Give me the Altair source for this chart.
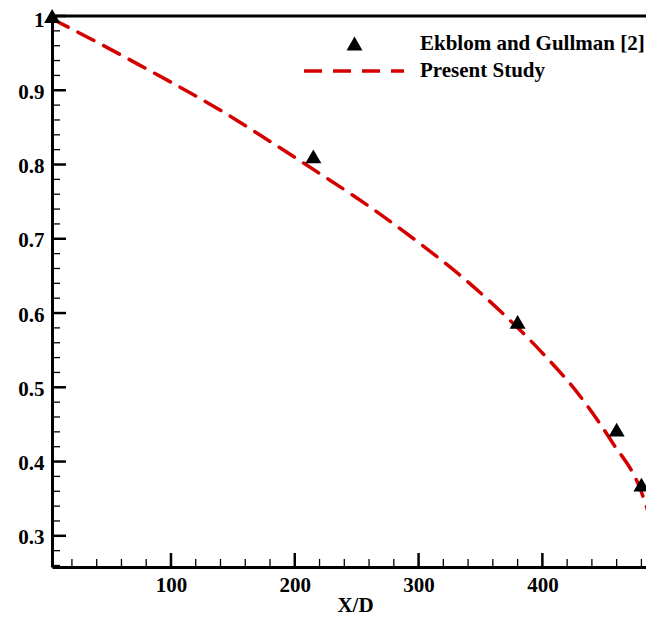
import altair as alt
import pandas as pd

# ---- data ----
exp_x = [4, 215, 380, 460, 480]
exp_y = [1.0, 0.811, 0.588, 0.443, 0.369]

sim_x = [4, 40, 80, 115, 141, 181, 220, 258, 296, 332, 367, 399, 430, 456, 480, 489.5]
sim_y = [0.996, 0.965, 0.929, 0.897, 0.872, 0.830, 0.788, 0.746, 0.700, 0.653,
         0.601, 0.548, 0.489, 0.427, 0.359, 0.310]

x_major = [100, 200, 300, 400]
x_minor = [20, 40, 60, 80, 120, 140, 160, 180, 220, 240, 260, 280,
           320, 340, 360, 380, 420, 440, 460, 480]
y_major = [0.3, 0.4, 0.5, 0.6, 0.7, 0.8, 0.9, 1.0]
y_minor = [0.26, 0.28, 0.32, 0.34, 0.36, 0.38, 0.42, 0.44, 0.46, 0.48,
           0.52, 0.54, 0.56, 0.58, 0.62, 0.64, 0.66, 0.68, 0.72, 0.74,
           0.76, 0.78, 0.82, 0.84, 0.86, 0.88, 0.92, 0.94, 0.96, 0.98]

EXP_NAME = "Ekblom and Gullman [2]"
SIM_NAME = "Present Study"

W, H = 594, 551
FONT = "Liberation Serif"
FS = 21
RED = "#d40000"

exp_df = pd.DataFrame({"x": exp_x, "y": exp_y, "series": EXP_NAME})
sim_df = pd.DataFrame({"x": sim_x, "y": sim_y, "series": SIM_NAME})
xmaj_df = pd.DataFrame({"x": x_major})
xmin_df = pd.DataFrame({"x": x_minor})
ymaj_df = pd.DataFrame({"y": y_major})
ymin_df = pd.DataFrame({"y": y_minor})

xs = alt.Scale(domain=[3.9, 483.7], nice=False, zero=False)
ys = alt.Scale(domain=[0.258, 1.0], nice=False, zero=False)

xaxis = alt.Axis(title="X/D", values=x_major, ticks=False, grid=False,
                 domainWidth=3, domainColor="black",
                 labelFont=FONT, labelFontSize=FS, labelFontWeight="bold",
                 labelColor="black", labelPadding=7,
                 titleFont=FONT, titleFontSize=21, titleFontWeight="bold",
                 titleColor="black", titlePadding=-1,
                 titleX=303)
yaxis = alt.Axis(title=None, values=y_major, ticks=False, grid=False,
                 domainWidth=3, domainColor="black",
                 labelFont=FONT, labelFontSize=FS, labelFontWeight="bold",
                 labelColor="black", labelPadding=8,
                 labelOffset={"condition": {"test": "datum.value >= 0.99", "value": 4},
                              "value": 2},
                 labelExpr="datum.value == 1 ? '1' : format(datum.value, '.1f')")


def X():
    return alt.X("x:Q", scale=xs, axis=xaxis)


def Y():
    return alt.Y("y:Q", scale=ys, axis=yaxis)


frame = alt.Chart(pd.DataFrame({"a": [0]})).mark_rule(
    color="black", strokeWidth=3
).encode(x=alt.value(0), x2=alt.value(W), y=alt.value(0))

xminor = alt.Chart(xmin_df).mark_rule(color="black", strokeWidth=1.3).encode(
    x=X(), y=alt.value(H), y2=alt.value(H - 8))
xmajor = alt.Chart(xmaj_df).mark_rule(color="black", strokeWidth=2.5).encode(
    x=X(), y=alt.value(H), y2=alt.value(H - 14))
yminor = alt.Chart(ymin_df).mark_rule(color="black", strokeWidth=1.3).encode(
    y=Y(), x=alt.value(0), x2=alt.value(8))
ymajor = alt.Chart(ymaj_df).mark_rule(color="black", strokeWidth=2.5).encode(
    y=Y(), x=alt.value(0), x2=alt.value(14))

line = alt.Chart(sim_df).mark_line(
    color=RED, strokeWidth=3.5, strokeCap="round", clip=True, interpolate="monotone"
).encode(
    x=X(), y=Y(),
    strokeDash=alt.StrokeDash(
        "series:N",
        scale=alt.Scale(domain=[SIM_NAME], range=[[18, 11]]),
        legend=alt.Legend(title=None, orient="none", legendX=250, legendY=3,
                          padding=0, symbolType="stroke", symbolSize=10000,
                          symbolStrokeWidth=3.5, symbolStrokeColor=RED,
                          labelFont=FONT, labelFontSize=FS, labelFontWeight="bold",
                          labelColor="black", labelOffset=14, labelLimit=0),
    ),
)

points = alt.Chart(exp_df).mark_point(
    filled=True, color="black", size=256, opacity=1
).encode(
    x=X(), y=Y(),
    shape=alt.Shape(
        "series:N",
        scale=alt.Scale(domain=[EXP_NAME], range=["triangle-up"]),
        legend=alt.Legend(title=None, orient="none", legendX=292, legendY=17,
                          padding=0, symbolSize=256, symbolFillColor="black",
                          symbolStrokeColor="black", symbolOpacity=1,
                          labelFont=FONT, labelFontSize=FS, labelFontWeight="bold",
                          labelColor="black", labelOffset=55, labelLimit=0),
    ),
)

chart = alt.layer(frame, xminor, xmajor, yminor, ymajor, line, points).properties(
    width=W, height=H,
    padding={"left": 44, "top": 8, "right": 0, "bottom": 48},
    autosize=alt.AutoSizeParams(type="none"),
).configure_view(stroke=None).configure(background="white")

chart.save("out.html", embed_options={"renderer": "svg", "actions": False})
